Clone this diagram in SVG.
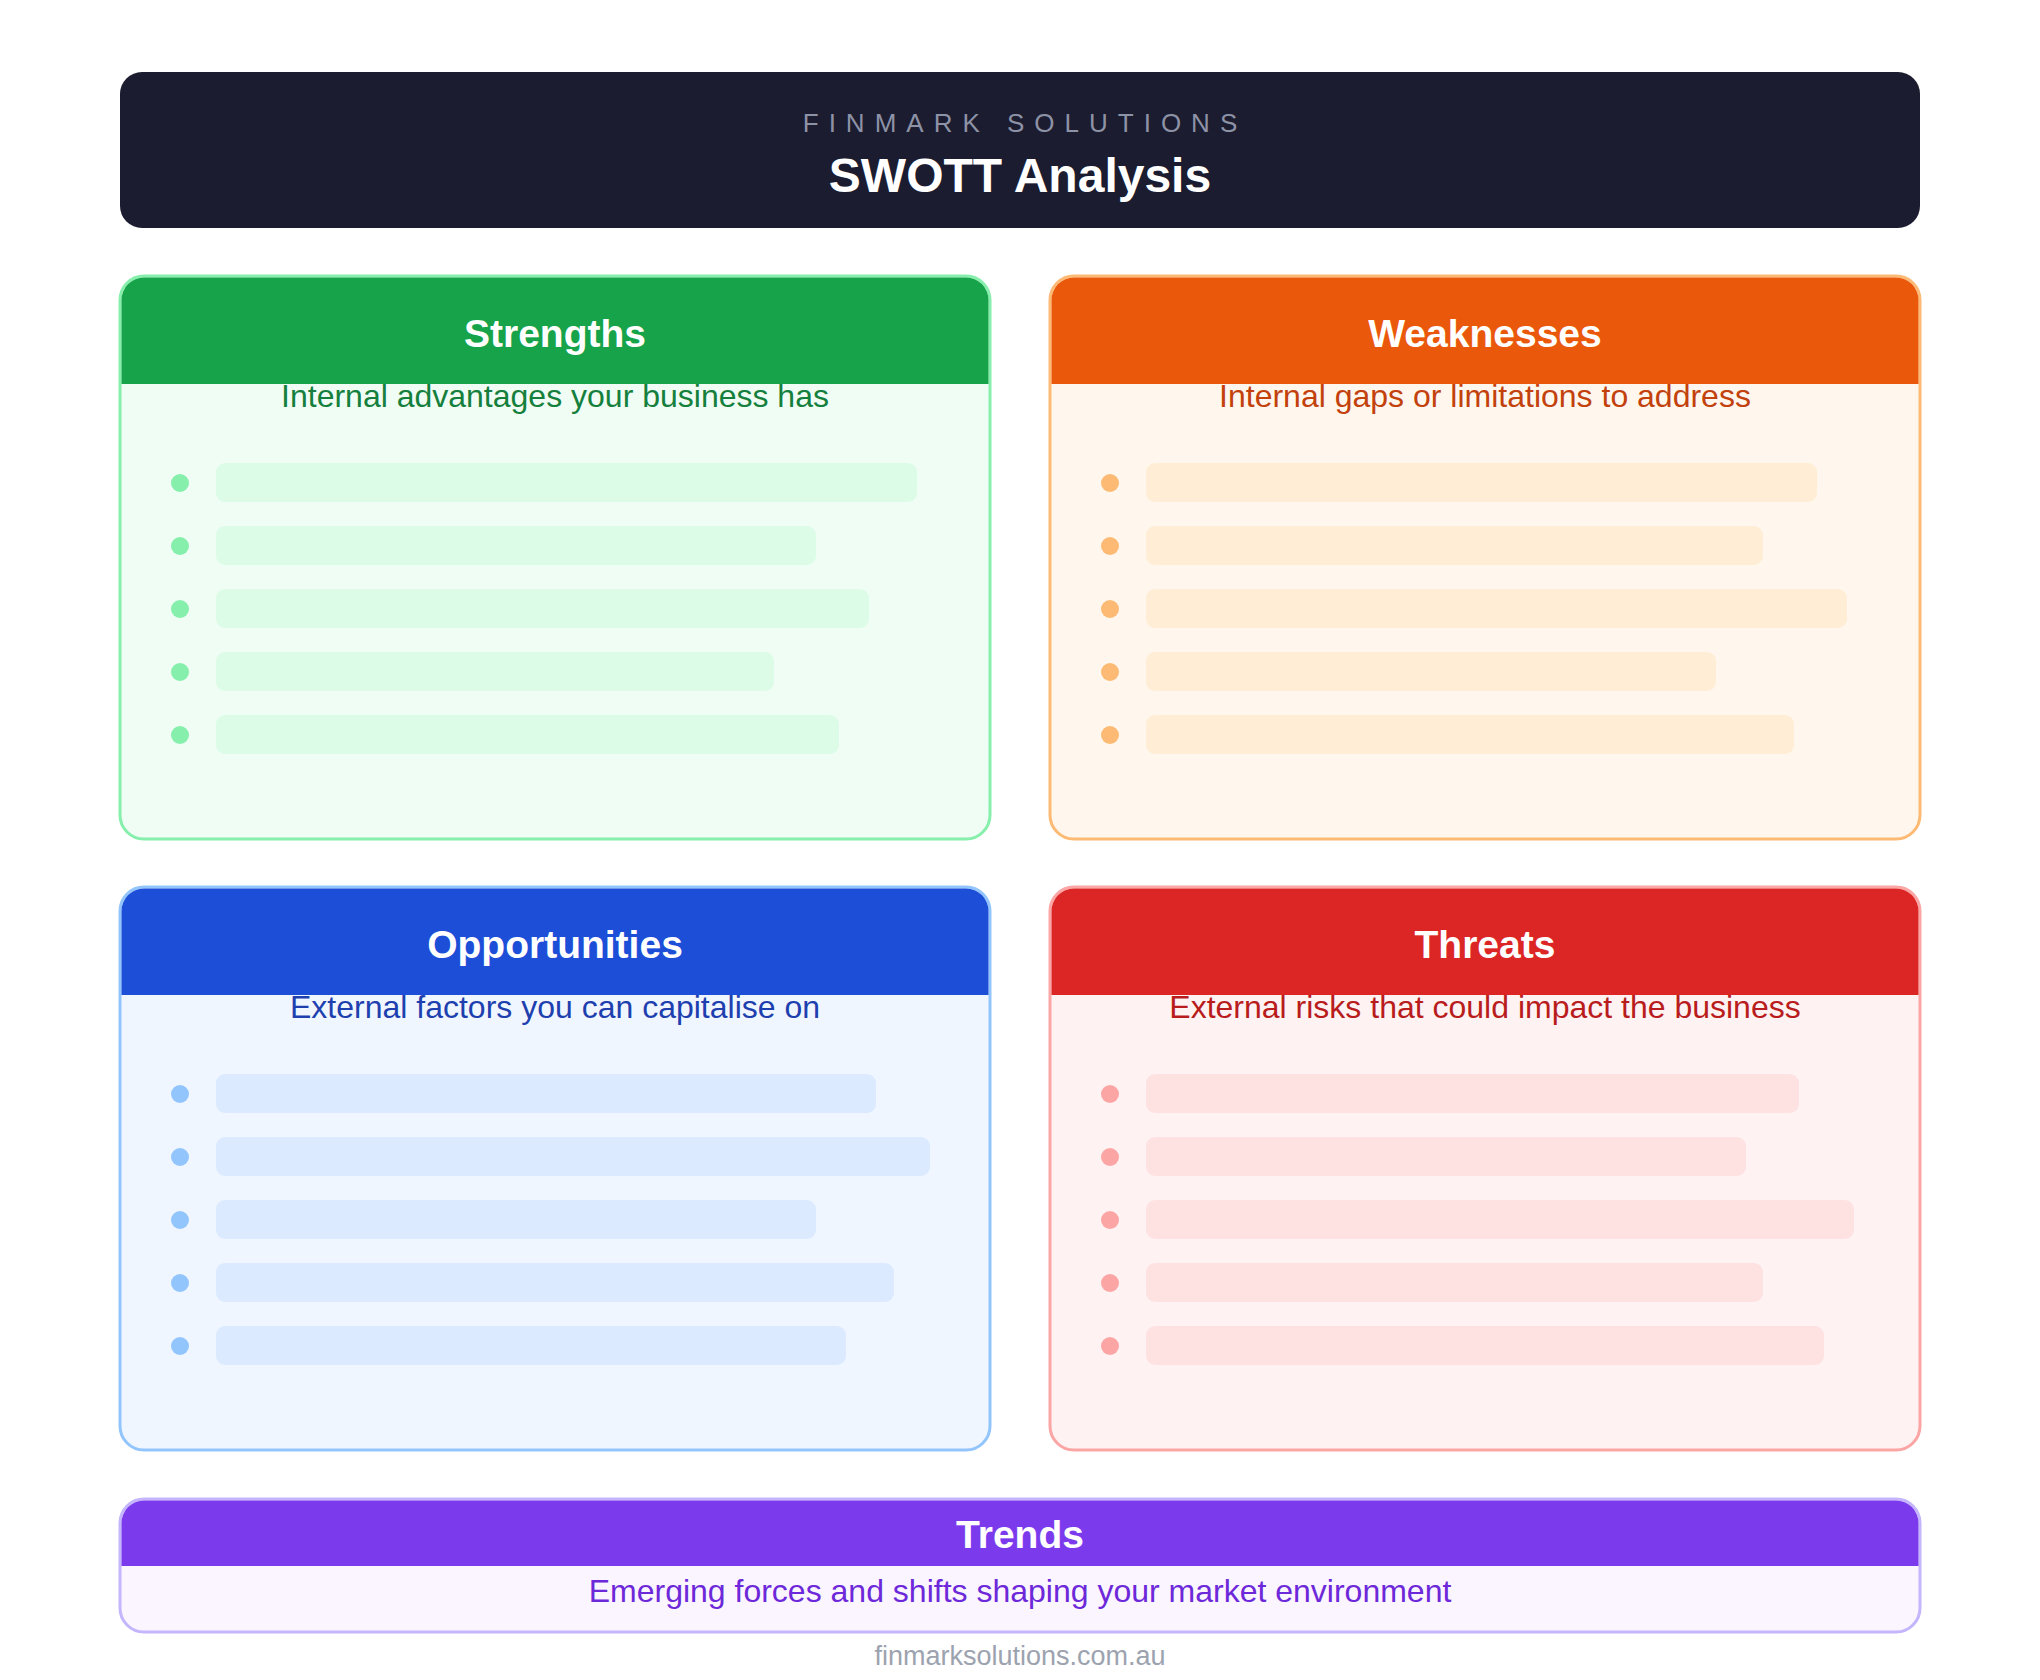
<svg xmlns="http://www.w3.org/2000/svg" width="2040" height="1680" viewBox="0 0 2040 1680">
<style>
text{font-family:"Liberation Sans",Arial,sans-serif;text-anchor:middle}
.ttl{font-size:39px;font-weight:bold;fill:#ffffff}
.sub{font-size:32px}
.card{stroke-width:3}
</style>
<rect width="2040" height="1680" fill="#ffffff"/>
<g id="header">
<rect x="120" y="72" width="1800" height="156" rx="22" fill="#1b1c2f"/>
<text x="1025" y="132" font-size="26" letter-spacing="10" fill="#8d92a6">FINMARK SOLUTIONS</text>
<text x="1020" y="192" font-size="48" font-weight="bold" fill="#ffffff">SWOTT Analysis</text>
</g>
<g id="strengths">
<rect class="card" x="120" y="276" width="870" height="563" rx="24" fill="#f0fdf4" stroke="#86efac"/>
<path d="M121.5 384 V300 A22.5 22.5 0 0 1 144 277.5 H966 A22.5 22.5 0 0 1 988.5 300 V384 Z" fill="#16a34a"/>
<text class="ttl" x="555" y="347">Strengths</text>
<text class="sub" x="555" y="407" fill="#15803d">Internal advantages your business has</text>
<g fill="#86efac"><circle cx="180" cy="483" r="9"/><circle cx="180" cy="546" r="9"/><circle cx="180" cy="609" r="9"/><circle cx="180" cy="672" r="9"/><circle cx="180" cy="735" r="9"/></g>
<g fill="#dcfce7"><rect x="216" y="463" width="701" height="39" rx="9"/><rect x="216" y="526" width="600" height="39" rx="9"/><rect x="216" y="589" width="653" height="39" rx="9"/><rect x="216" y="652" width="558" height="39" rx="9"/><rect x="216" y="715" width="623" height="39" rx="9"/></g>
</g>
<g id="weaknesses">
<rect class="card" x="1050" y="276" width="870" height="563" rx="24" fill="#fff7ed" stroke="#fdba74"/>
<path d="M1051.5 384 V300 A22.5 22.5 0 0 1 1074 277.5 H1896 A22.5 22.5 0 0 1 1918.5 300 V384 Z" fill="#ea580c"/>
<text class="ttl" x="1485" y="347">Weaknesses</text>
<text class="sub" x="1485" y="407" fill="#c2410c">Internal gaps or limitations to address</text>
<g fill="#fdba74"><circle cx="1110" cy="483" r="9"/><circle cx="1110" cy="546" r="9"/><circle cx="1110" cy="609" r="9"/><circle cx="1110" cy="672" r="9"/><circle cx="1110" cy="735" r="9"/></g>
<g fill="#ffedd5"><rect x="1146" y="463" width="671" height="39" rx="9"/><rect x="1146" y="526" width="617" height="39" rx="9"/><rect x="1146" y="589" width="701" height="39" rx="9"/><rect x="1146" y="652" width="570" height="39" rx="9"/><rect x="1146" y="715" width="648" height="39" rx="9"/></g>
</g>
<g id="opportunities">
<rect class="card" x="120" y="887" width="870" height="563" rx="24" fill="#eff6ff" stroke="#93c5fd"/>
<path d="M121.5 995 V911 A22.5 22.5 0 0 1 144 888.5 H966 A22.5 22.5 0 0 1 988.5 911 V995 Z" fill="#1d4ed8"/>
<text class="ttl" x="555" y="958">Opportunities</text>
<text class="sub" x="555" y="1018" fill="#1e40af">External factors you can capitalise on</text>
<g fill="#93c5fd"><circle cx="180" cy="1094" r="9"/><circle cx="180" cy="1157" r="9"/><circle cx="180" cy="1220" r="9"/><circle cx="180" cy="1283" r="9"/><circle cx="180" cy="1346" r="9"/></g>
<g fill="#dbeafe"><rect x="216" y="1074" width="660" height="39" rx="9"/><rect x="216" y="1137" width="714" height="39" rx="9"/><rect x="216" y="1200" width="600" height="39" rx="9"/><rect x="216" y="1263" width="678" height="39" rx="9"/><rect x="216" y="1326" width="630" height="39" rx="9"/></g>
</g>
<g id="threats">
<rect class="card" x="1050" y="887" width="870" height="563" rx="24" fill="#fef2f2" stroke="#fca5a5"/>
<path d="M1051.5 995 V911 A22.5 22.5 0 0 1 1074 888.5 H1896 A22.5 22.5 0 0 1 1918.5 911 V995 Z" fill="#dc2626"/>
<text class="ttl" x="1485" y="958">Threats</text>
<text class="sub" x="1485" y="1018" fill="#b91c1c">External risks that could impact the business</text>
<g fill="#fca5a5"><circle cx="1110" cy="1094" r="9"/><circle cx="1110" cy="1157" r="9"/><circle cx="1110" cy="1220" r="9"/><circle cx="1110" cy="1283" r="9"/><circle cx="1110" cy="1346" r="9"/></g>
<g fill="#fee2e2"><rect x="1146" y="1074" width="653" height="39" rx="9"/><rect x="1146" y="1137" width="600" height="39" rx="9"/><rect x="1146" y="1200" width="708" height="39" rx="9"/><rect x="1146" y="1263" width="617" height="39" rx="9"/><rect x="1146" y="1326" width="678" height="39" rx="9"/></g>
</g>
<g id="trends">
<rect class="card" x="120" y="1499" width="1800" height="133" rx="24" fill="#faf5ff" stroke="#c4b5fd"/>
<path d="M121.5 1566 V1523 A22.5 22.5 0 0 1 144 1500.5 H1896 A22.5 22.5 0 0 1 1918.5 1523 V1566 Z" fill="#7c3aed"/>
<text class="ttl" x="1020" y="1548">Trends</text>
<text class="sub" x="1020" y="1602" fill="#6d28d9">Emerging forces and shifts shaping your market environment</text>
</g>
<g id="connectors"/>
<text x="1020" y="1665" font-size="27" fill="#9ca3af">finmarksolutions.com.au</text>
</svg>
